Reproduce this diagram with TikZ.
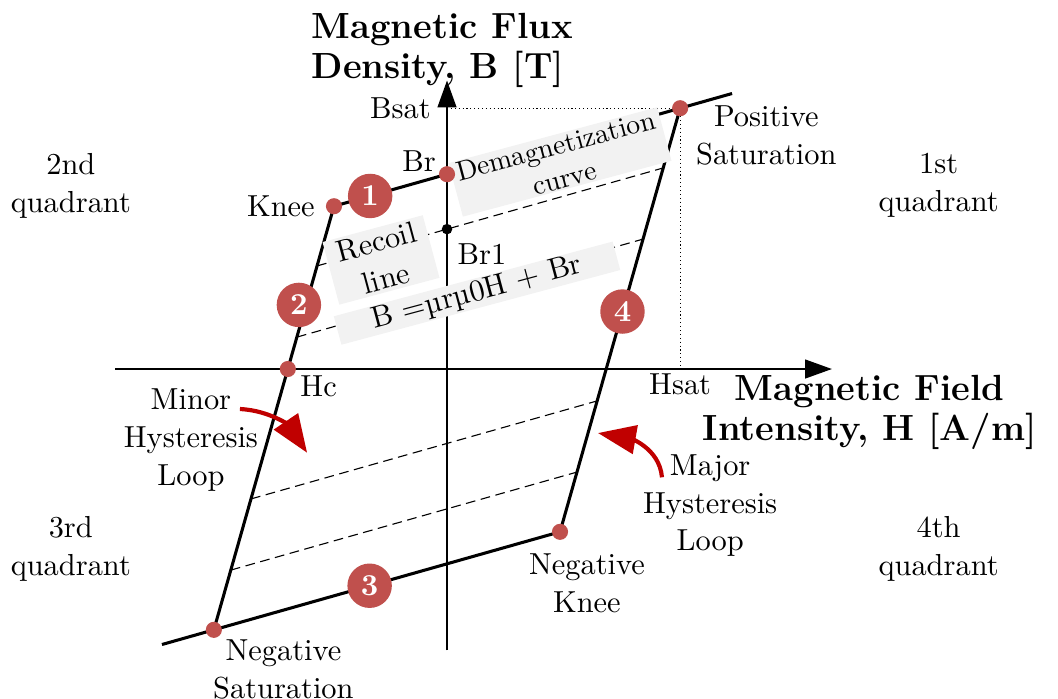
\documentclass[tikz,border=0pt,11pt]{standalone}
\usepackage{tikz}
\usetikzlibrary{arrows.meta,positioning,calc}
\definecolor{dotred}{RGB}{192,80,77}
\definecolor{arrred}{RGB}{192,0,0}
\definecolor{boxgray}{RGB}{242,242,242}

\begin{document}
\begin{tikzpicture}[
    axis/.style={line width=0.5pt, -{Triangle[length=3.4mm,width=2.4mm]}},
    curve/.style={line width=1.1pt, line join=round},
    recoil/.style={line width=0.4pt, dash pattern=on 3.5pt off 2pt},
    guide/.style={line width=0.4pt, densely dotted},
    rdot/.style={circle, fill=dotred, inner sep=0pt, minimum size=5.8pt},
    bdot/.style={circle, fill=black, inner sep=0pt, minimum size=3.8pt},
    num/.style={circle, fill=dotred, text=white, font=\bfseries, inner sep=0pt, minimum size=16pt},
    tag/.style={align=center},
    title/.style={font=\fontsize{13.1}{14.2}\selectfont\bfseries},
    tbox/.style={fill=boxgray, align=center, rotate=15},
    hint/.style={arrred, line width=1.5pt, -{Triangle[length=4.8mm,width=3.6mm]}}
  ]
  \useasboundingbox (-5.656,-4.163) rectangle (7.731,4.669);

  % Eckpunkte der Schleife
  \coordinate (P) at (2.95,3.3);
  \coordinate (N) at (-2.95,-3.3);
  \coordinate (K) at (-1.43,2.06);
  \coordinate (NK) at (1.43,-2.06);
  \coordinate (Br) at (0,2.465);
  \coordinate (Hc) at (-2.014,0);
  \coordinate (Bsat) at (0,3.3);
  \coordinate (Hsat) at (2.95,0);

  % Achsen
  \coordinate (Hl) at (-4.2,0);
  \coordinate (Hr) at (4.87,0);
  \coordinate (Bb) at (0,-3.56);
  \coordinate (Bt) at (0,3.65);
  \draw[axis] (Hl) -- (Hr);
  \draw[axis] (Bb) -- (Bt);
  \draw[guide] (Bsat) -- (P) -- (Hsat);

  % Rueckstelllinien
  \foreach \t in {0.141,0.309,0.691,0.859}
    \draw[recoil] ($(K)!\t!(N)$) -- ($(P)!\t!(NK)$);

  % Hystereseschleife
  \draw[curve] ($(NK)!1.15!(N)$) -- (NK) -- (P);
  \draw[curve] (N) -- (K) -- ($(K)!1.15!(P)$);

  % Beschriftungsfelder
  \node[tbox, font=\small, inner xsep=2pt, inner ysep=0.5pt] (demag) at (1.43,2.62) {Demagnetization\\curve};
  \node[tbox, inner xsep=4pt, inner ysep=1pt] (recoilbox) at (-0.835,1.38) {Recoil\\line};
  \node[tbox, inner xsep=13pt, inner ysep=0.5pt] (eqn) at (0.38,0.96) {B =µrµ0H + Br};

  % Punkte
  \node[rdot] (Pd) at (P) {};
  \node[rdot] (Nd) at (N) {};
  \node[rdot] (Kd) at (K) {};
  \node[rdot] (NKd) at (NK) {};
  \node[rdot] (Brd) at (Br) {};
  \node[rdot] (Hcd) at (Hc) {};
  \node[bdot] (Br1d) at (0,1.77) {};

  \node[num] (n1) at ($(K)!0.32!(Br)$) {1};
  \node[num] (n2) at ($(K)!0.233!(N)+(-0.09,0)$) {2};
  \node[num] (n3) at ($(N)!0.45!(NK)$) {3};
  \node[num] (n4) at ($(P)!0.48!(NK)$) {4};

  % Marken
  \node[left=2pt of Bsat] (bsatlbl) {Bsat};
  \node[above left=-5pt and -2pt of Brd] (brlbl) {Br};
  \node[left=0pt of Kd] (kneelbl) {Knee};
  \node[below right=0pt and -1.5pt of Br1d] (br1lbl) {Br1};
  \node[below right=-3.5pt and -1.5pt of Hcd] (hclbl) {Hc};
  \node[below=-2pt of Hsat] (hsatlbl) {Hsat};
  \node[tag] (possat) at (4.04,2.96) {Positive\\Saturation};
  \node[tag] (negknee) at (1.77,-2.71) {Negative\\Knee};
  \node[tag] (negsat) at (-2.07,-3.8) {Negative\\Saturation};

  % Quadranten
  \node[tag] (q2) at (-4.76,2.32) {2nd\\quadrant};
  \node[tag] (q1) at (6.22,2.32) {1st\\quadrant};
  \node[tag] (q3) at (-4.76,-2.28) {3rd\\quadrant};
  \node[tag] (q4) at (6.22,-2.28) {4th\\quadrant};

  % Achsentitel
  \node[title, align=left] (btitle) at (-0.06,4.03) {Magnetic Flux\\Density, B [T]};
  \node[title, align=center] (htitle) at (5.35,-0.55) {Magnetic Field\\Intensity, H [A/m]};

  % Schleifenhinweise
  \node[tag] (minor) at (-3.24,-0.90) {Minor\\Hysteresis\\Loop};
  \node[tag] (major) at (3.33,-1.73) {Major\\Hysteresis\\Loop};
  \coordinate (mstart) at (-2.62,-0.506);
  \coordinate (mend) at (-1.77,-1.06);
  \coordinate (jstart) at (2.72,-1.37);
  \coordinate (jend) at (1.91,-0.81);
  \draw[hint] (mstart) to[out=-3,in=124] (mend);
  \draw[hint] (jstart) to[out=95,in=-10] (jend);
\end{tikzpicture}
\end{document}
